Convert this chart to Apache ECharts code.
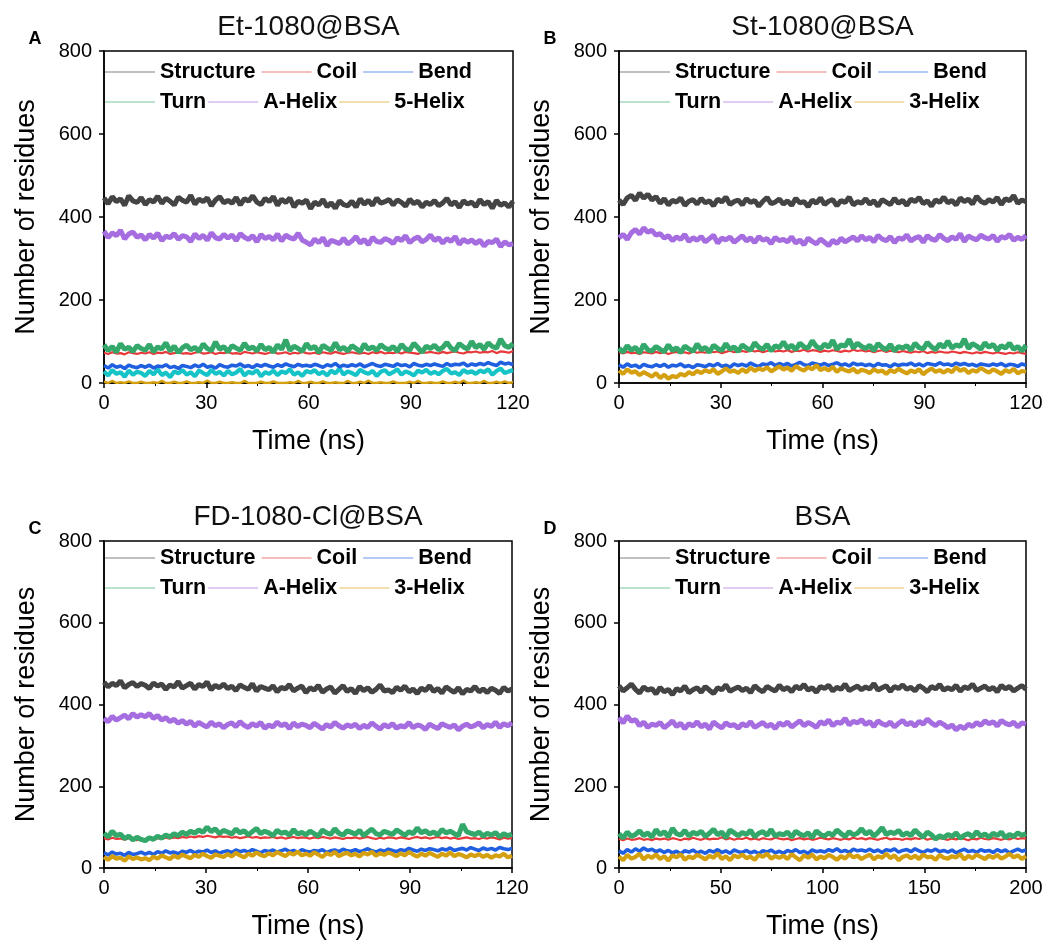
<!DOCTYPE html>
<html><head><meta charset="utf-8">
<script src="https://cdn.jsdelivr.net/npm/echarts@6/dist/echarts.min.js"></script>
<style>html,body{margin:0;padding:0;background:#fff}#chart{width:1048px;height:945px}</style>
</head><body><div id="chart"></div>
<script>
// ---------- labels ----------
const panelTitles = ['Et-1080@BSA', 'St-1080@BSA', 'FD-1080-Cl@BSA', 'BSA'];
const panelLetters = ['A', 'B', 'C', 'D'];
const timeMax = [120, 120, 120, 200];
const timeStep = [30, 30, 30, 50];
const yMax = 800, yStep = 200;
const legendRow1 = ['Structure', 'Coil', 'Bend'];
const legendRow2A = ['Turn', 'A-Helix', '5-Helix'];
const legendRow2 = ['Turn', 'A-Helix', '3-Helix'];

// ---------- A: Et-1080@BSA (100 frames over 0-120 ns) ----------
const etStructure = [446,432,449,437,444,428,451,439,435,447, 430,442,436,450,433,445,438,429,448,440, 436,452,431,443,437,446,427,441,449,434, 440,433,447,429,444,438,451,436,430,445, 437,449,428,443,435,446,424,438,433,441, 420,436,429,442,425,434,421,439,430,427, 438,424,444,431,440,428,446,433,437,442, 429,441,435,426,443,432,438,424,436,430, 440,427,434,445,429,437,423,439,431,436, 425,442,430,437,421,440,428,434,424,438];
const etAHelix = [366,350,362,355,368,347,359,364,351,357, 345,358,349,361,343,354,350,360,346,355, 352,341,359,348,356,344,362,350,347,358, 349,357,343,360,351,346,355,340,358,348, 353,345,359,342,356,350,347,361,344,339, 333,347,338,350,331,344,340,336,349,335, 342,353,337,346,333,351,341,339,348,344, 336,350,343,355,338,347,352,340,346,357, 343,350,337,348,341,353,334,346,339,345, 336,344,330,341,338,347,329,340,333,336];
const etTurn = [92,78,88,74,95,81,86,76,90,83, 79,93,75,87,82,97,77,89,73,85, 91,80,86,76,94,83,78,99,81,88, 75,90,84,79,96,82,87,77,93,80, 86,74,92,81,104,78,89,83,76,95, 82,88,73,91,84,79,97,80,86,77, 90,83,75,94,81,87,78,92,84,80, 88,76,93,82,79,96,85,74,89,83, 91,80,86,98,84,78,95,87,82,100, 85,93,81,97,88,84,106,90,86,95];
const etCoil = [73,70,74,71,72,69,74,72,70,73, 71,74,70,73,72,75,70,72,74,71, 72,70,73,75,71,72,74,70,73,72, 74,71,72,70,75,73,71,74,72,70, 73,75,71,72,74,70,73,71,75,72, 71,73,70,74,72,71,75,72,70,73, 74,72,71,73,70,74,72,75,71,73, 72,74,71,75,73,72,70,74,73,75, 73,71,75,72,74,76,73,71,75,74, 76,73,75,74,77,72,76,75,73,77];
const etBend = [42,36,44,38,41,35,43,39,37,42, 38,43,36,41,39,44,37,40,35,42, 40,37,43,39,45,38,41,36,44,40, 38,43,41,46,39,42,37,44,40,45, 41,38,44,40,46,42,39,45,41,43, 40,45,42,38,44,41,47,39,43,40, 44,41,46,39,43,47,42,40,45,43, 40,46,42,44,39,47,43,41,45,42, 46,43,40,47,42,45,44,48,41,46, 43,47,44,49,45,42,50,46,48,44];
const et3Helix = [28,18,31,22,26,15,30,20,27,24, 17,29,21,33,19,25,14,28,23,31, 20,26,16,30,24,19,32,22,27,18, 29,21,25,34,18,27,23,31,16,26, 22,30,19,28,24,33,20,26,17,29, 25,31,21,27,18,30,23,35,20,28, 24,19,32,26,22,29,17,27,31,21, 26,33,20,28,24,18,30,25,32,22, 27,21,29,34,23,26,19,31,25,28, 22,30,26,33,20,29,35,24,28,31];
const et5Helix = [3,0,5,0,2,0,4,0,0,3, 0,0,2,0,5,0,0,3,0,0, 4,0,0,2,0,6,0,0,3,0, 0,2,0,0,5,0,0,0,3,0, 0,4,0,0,0,2,0,5,0,0, 3,0,0,4,0,0,2,0,0,5, 0,0,3,0,6,0,0,2,0,0, 4,0,0,0,3,0,5,0,0,2, 0,0,4,0,0,3,0,6,0,0, 2,0,5,0,0,3,0,4,0,2];

// ---------- B: St-1080@BSA ----------
const stStructure = [441,430,446,452,440,458,445,455,441,449, 433,444,429,440,436,446,428,438,442,431, 445,434,439,427,443,436,448,430,437,441, 429,444,435,440,426,438,447,432,436,443, 431,439,428,445,434,437,425,441,433,446, 430,438,442,427,440,435,448,429,437,433, 444,431,439,426,442,436,430,445,433,440, 428,443,437,447,432,439,426,441,435,448, 434,440,429,446,437,443,431,450,438,433, 442,436,447,430,444,439,452,433,441,437];
const stAHelix = [350,358,346,362,370,359,374,363,368,356, 360,349,355,343,352,346,358,341,350,344, 353,340,348,356,337,349,345,352,339,347, 355,342,350,338,353,344,348,336,351,343, 346,340,352,337,345,333,349,341,335,347, 339,331,344,336,349,340,346,352,342,355, 345,351,340,356,347,343,353,338,350,346, 357,342,349,353,339,355,347,344,358,348, 343,352,346,360,341,354,349,345,356,350, 347,356,341,353,349,358,344,351,346,355];
const stTurn = [84,74,90,79,86,72,93,80,77,88, 81,75,92,78,85,73,89,82,76,94, 80,86,74,91,83,78,95,81,87,76, 92,84,79,97,86,81,93,77,90,85, 99,83,91,80,96,87,84,102,88,82, 94,86,103,81,92,89,105,84,96,88, 83,91,78,95,86,80,93,77,88,84, 90,79,96,85,82,98,87,80,94,86, 101,84,92,88,106,83,95,89,81,97, 86,93,79,90,84,96,81,88,77,91];
const stCoil = [74,71,75,72,73,70,74,73,71,75, 72,74,70,73,75,72,74,71,76,73, 75,73,77,74,76,72,75,78,74,76, 77,75,79,76,78,74,77,80,76,78, 76,79,75,78,77,80,76,79,78,75, 78,76,79,77,75,78,76,80,77,79, 76,78,74,77,79,75,78,76,74,77, 75,73,76,74,77,72,75,73,76,74, 73,76,74,72,75,73,71,74,72,75, 73,71,74,72,70,73,71,74,72,70];
const stBend = [44,38,46,40,43,37,45,41,39,44, 40,45,38,43,41,46,39,42,37,44, 42,39,45,41,47,40,43,38,46,42, 45,41,48,43,40,46,44,49,42,47, 43,47,41,45,50,44,42,48,46,43, 47,42,45,49,43,46,41,48,44,46, 42,45,40,47,43,44,39,46,42,45, 44,48,42,46,41,47,45,43,49,44, 46,42,48,44,47,43,45,41,46,44, 42,46,43,47,41,45,44,40,46,43];
const st3Helix = [30,22,33,25,28,19,26,21,15,24, 12,20,10,17,14,22,18,26,21,29, 24,31,26,33,22,28,35,27,30,24, 33,26,37,29,35,31,38,28,34,40, 32,37,29,41,34,30,38,33,43,31, 36,30,39,27,35,31,28,34,25,32, 29,24,33,27,30,22,31,26,34,28, 23,30,26,33,21,29,35,27,31,25, 32,26,38,29,34,24,31,27,36,30, 25,33,28,22,31,26,34,23,29,27];

// ---------- C: FD-1080-Cl@BSA ----------
const fdStructure = [455,443,452,446,458,441,449,454,444,451, 447,439,453,445,450,437,448,443,456,440, 446,452,438,449,444,455,436,447,441,450, 439,445,434,448,442,437,451,433,444,440, 436,446,431,442,438,449,433,440,445,429, 441,435,447,430,438,443,428,437,446,432, 439,427,444,434,441,430,437,448,433,436, 429,442,435,445,431,438,427,440,434,446, 432,439,428,443,436,430,441,426,437,433, 444,431,438,429,440,435,427,442,433,438];
const fdAHelix = [366,358,371,362,368,374,365,378,369,375, 370,378,366,373,362,368,358,364,354,361, 352,359,347,356,350,345,357,348,353,343, 351,355,346,358,349,344,353,347,356,342, 350,345,357,348,353,341,355,346,352,349, 343,354,347,340,351,345,356,348,342,350, 346,352,341,349,344,355,347,340,351,345, 353,342,348,345,356,343,350,347,339,352, 346,341,353,348,344,350,338,347,352,345, 349,355,343,351,346,357,344,353,348,355];
const fdTurn = [85,76,90,79,83,72,78,69,75,70, 67,74,70,78,73,81,76,84,79,88, 82,90,85,93,87,100,89,96,84,92, 88,83,95,86,91,81,89,97,84,90, 86,79,92,85,88,80,94,83,87,81, 90,84,78,93,86,82,96,85,80,91, 87,83,92,79,88,95,84,81,90,86, 82,93,87,80,89,84,98,86,91,83, 88,81,94,86,90,84,79,107,89,85, 82,88,78,85,80,87,76,84,79,83];
const fdCoil = [73,70,74,71,72,69,73,70,68,71, 69,72,70,73,71,74,72,75,73,76, 74,77,75,78,76,79,77,75,78,76, 77,74,76,73,75,77,74,76,73,75, 74,76,73,75,72,74,76,73,75,74, 72,75,73,76,74,72,75,73,71,74, 73,75,72,74,76,73,71,74,72,75, 74,72,75,73,71,74,76,73,75,72, 74,76,73,75,72,74,71,73,75,72, 73,71,74,72,75,73,70,74,72,73];
const fdBend = [37,32,39,34,36,31,38,33,35,39, 34,38,33,40,36,42,37,39,35,41, 38,43,37,41,39,44,38,42,36,40, 42,38,44,40,43,39,45,41,37,43, 40,44,39,42,46,40,43,38,45,41, 39,43,41,45,38,42,44,40,46,42, 41,45,40,43,47,42,39,44,41,46, 43,40,45,42,48,44,41,46,43,47, 45,42,47,44,49,43,46,48,44,50, 46,43,49,45,48,44,50,47,45,48];
const fd3Helix = [27,20,29,23,25,18,28,22,26,21, 24,19,28,23,31,26,22,30,25,33, 28,24,32,27,35,29,25,33,30,27, 34,28,37,31,26,35,30,38,32,29, 36,31,39,34,29,37,33,40,31,35, 30,38,33,27,36,32,39,29,34,37, 31,35,28,37,33,40,30,36,32,38, 34,29,36,31,39,33,28,35,30,37, 32,27,35,30,38,29,34,31,26,33, 29,34,27,32,25,31,28,35,26,30];

// ---------- D: BSA (100 frames over 0-200 ns) ----------
const bsaStructure = [446,433,441,450,437,428,443,435,439,426, 442,431,437,424,439,433,445,429,436,441, 430,444,435,427,441,436,448,432,438,443, 434,440,429,446,437,431,444,438,433,447, 436,442,431,445,438,449,435,441,430,444, 439,447,433,442,437,450,434,440,445,436, 443,438,451,435,441,446,432,444,439,448, 437,442,433,446,440,431,444,438,449,435, 441,436,447,432,443,439,450,434,440,445, 436,442,431,447,438,444,433,440,446,437];
const bsaAHelix = [368,355,372,359,363,348,357,344,352,349, 356,343,351,360,346,354,341,353,347,358, 345,352,340,357,349,343,355,348,351,342, 353,347,358,344,350,356,346,352,341,355, 349,357,345,353,360,348,356,351,344,358, 352,362,348,357,354,366,350,359,355,363, 351,358,346,360,353,349,357,345,354,361, 350,356,347,359,352,364,355,348,357,351, 343,350,338,347,341,352,346,356,349,360, 353,358,347,361,354,350,357,345,355,352];
const bsaTurn = [84,73,88,77,82,91,79,86,75,94, 81,89,76,97,84,80,92,78,87,83, 90,77,85,95,81,88,74,93,86,79, 87,82,92,76,85,89,80,94,78,84, 81,88,75,90,83,79,86,74,91,82, 78,86,80,93,84,77,89,81,85,96, 83,90,78,87,99,82,88,84,92,80, 86,79,93,83,75,88,81,71,79,74, 82,77,86,73,80,84,76,89,78,83, 75,85,79,88,74,82,77,86,80,84];
const bsaCoil = [71,68,72,69,70,73,69,71,68,72, 70,72,69,73,71,68,72,70,74,71, 69,73,70,72,71,75,70,73,69,72, 71,74,70,72,69,73,71,70,74,72, 70,72,68,71,73,70,72,69,71,74, 72,70,73,71,69,72,70,74,71,73, 70,73,71,69,72,74,70,72,71,69, 72,70,73,71,74,69,72,70,73,71, 69,72,70,73,71,68,72,70,74,71, 70,73,71,69,72,70,74,71,73,72];
const bsaBend = [42,36,45,39,47,41,49,43,46,40, 44,38,43,37,41,35,42,39,44,37, 41,36,43,39,45,38,42,36,44,40, 38,43,37,41,35,42,39,44,37,41, 36,43,39,45,38,41,36,44,40,42, 39,45,41,47,40,43,38,46,42,44, 41,46,40,44,38,45,42,47,39,43, 45,40,47,42,38,44,41,46,40,43, 39,44,37,42,46,40,43,38,45,41, 43,38,45,40,44,37,42,46,41,44];
const bsa3Helix = [28,19,32,23,27,35,21,30,25,33, 22,29,18,31,26,34,20,28,24,32, 27,21,30,25,36,22,29,19,31,26, 33,24,28,20,32,27,35,23,29,25, 30,22,34,26,19,31,25,33,21,28, 24,32,27,20,29,23,34,26,30,22, 28,33,21,29,25,35,24,31,19,27, 31,24,30,22,33,26,28,20,32,25, 23,29,26,34,21,30,24,33,27,22, 30,25,32,23,28,35,26,31,22,29];

// ---------- styles ----------
const FONT = "'Liberation Sans', Arial, sans-serif";
const seriesColors = {
  'Structure': '#444444', 'Coil': '#e8393a', 'Bend': '#1f5fe0', 'Turn': '#34a86a',
  'A-Helix': '#a66de0', '3-Helix': '#d4a010', '5-Helix': '#d4a010', 'Other (A)': '#16c3c6'
};
// drawing order (later = on top)
const panelSeries = [
  [['Structure', etStructure], ['A-Helix', etAHelix], ['Coil', etCoil], ['Turn', etTurn], ['Other (A)', et3Helix], ['Bend', etBend], ['5-Helix', et5Helix]],
  [['Structure', stStructure], ['A-Helix', stAHelix], ['Coil', stCoil], ['Turn', stTurn], ['Bend', stBend], ['3-Helix', st3Helix]],
  [['Structure', fdStructure], ['A-Helix', fdAHelix], ['Coil', fdCoil], ['Turn', fdTurn], ['Bend', fdBend], ['3-Helix', fd3Helix]],
  [['Structure', bsaStructure], ['A-Helix', bsaAHelix], ['Coil', bsaCoil], ['Turn', bsaTurn], ['Bend', bsaBend], ['3-Helix', bsa3Helix]]
];
const lineWidths = {'Structure': 5, 'A-Helix': 5, 'Turn': 5, 'Coil': 2.2, 'Bend': 3.6, '3-Helix': 4.2, '5-Helix': 2.5, 'Other (A)': 4.2};
const grids = [
  {left: 104, top: 51, width: 409, height: 332},
  {left: 619, top: 51, width: 407, height: 332},
  {left: 104, top: 541, width: 408, height: 327},
  {left: 619, top: 541, width: 407, height: 327}
];
const legendTops = [[61, 91], [61, 91], [547, 577], [547, 577]];

const option = {
  animation: false,
  backgroundColor: '#fff',
  textStyle: {fontFamily: FONT},
  title: [], grid: [], xAxis: [], yAxis: [], legend: [], series: []
};

grids.forEach((g, i) => {
  option.grid.push(Object.assign({show: true, borderColor: '#000', borderWidth: 1.5, backgroundColor: 'transparent'}, g));
  option.title.push({
    text: panelTitles[i], left: g.left + g.width / 2, top: g.top - 38, textAlign: 'center', padding: 0,
    textStyle: {fontSize: 28, fontWeight: 'normal', color: '#111', fontFamily: FONT}
  });
  option.title.push({
    text: panelLetters[i], left: g.left - 69, top: g.top - 21, textAlign: 'center', padding: 0,
    textStyle: {fontSize: 18, fontWeight: 'bold', color: '#000', fontFamily: FONT}
  });
  option.xAxis.push({
    gridIndex: i, type: 'value', min: 0, max: timeMax[i], interval: timeStep[i],
    name: 'Time (ns)', nameLocation: 'middle', nameGap: 45,
    nameTextStyle: {fontSize: 27, color: '#000', fontFamily: FONT},
    axisLine: {show: true, onZero: false, lineStyle: {color: '#000', width: 1.5}},
    axisTick: {show: true, length: 5, lineStyle: {color: '#000', width: 1.5}},
    minorTick: {show: true, splitNumber: 2, length: 3, lineStyle: {color: '#000', width: 1}},
    axisLabel: {fontSize: 20, color: '#000', margin: 10, fontFamily: FONT},
    splitLine: {show: false}
  });
  option.yAxis.push({
    gridIndex: i, type: 'value', min: 0, max: yMax, interval: yStep,
    name: 'Number of residues', nameLocation: 'middle', nameGap: 64, nameRotate: 90,
    nameTextStyle: {fontSize: 27, color: '#000', fontFamily: FONT},
    axisLine: {show: true, onZero: false, lineStyle: {color: '#000', width: 1.5}},
    axisTick: {show: true, length: 5, lineStyle: {color: '#000', width: 1.5}},
    axisLabel: {fontSize: 20, color: '#000', margin: 12, fontFamily: FONT},
    splitLine: {show: false}
  });
  const legBase = {
    left: g.left + 1, padding: 0, icon: 'rect', itemWidth: 50, itemHeight: 1.5, selectedMode: false,
    textStyle: {fontSize: 21.5, fontWeight: 'bold', color: '#000', fontFamily: FONT},
    itemStyle: {opacity: 0.45, borderWidth: 0}
  };
  option.legend.push(Object.assign({}, legBase, {top: legendTops[i][0], itemGap: 6, data: legendRow1}));
  option.legend.push(Object.assign({}, legBase, {top: legendTops[i][1], itemGap: 2, data: i === 0 ? legendRow2A : legendRow2}));

  const n = panelSeries[i][0][1].length;
  panelSeries[i].forEach(([name, vals]) => {
    option.series.push({
      name: name, type: 'line', xAxisIndex: i, yAxisIndex: i,
      symbol: 'none', showSymbol: false,
      color: seriesColors[name],
      lineStyle: {width: lineWidths[name], color: seriesColors[name], join: 'bevel'},
      data: vals.map((v, k) => [k * timeMax[i] / (n - 1), v])
    });
  });
});

const chart = echarts.init(document.getElementById('chart'), null, {renderer: 'canvas'});
chart.setOption(option);
</script>
</body></html>
